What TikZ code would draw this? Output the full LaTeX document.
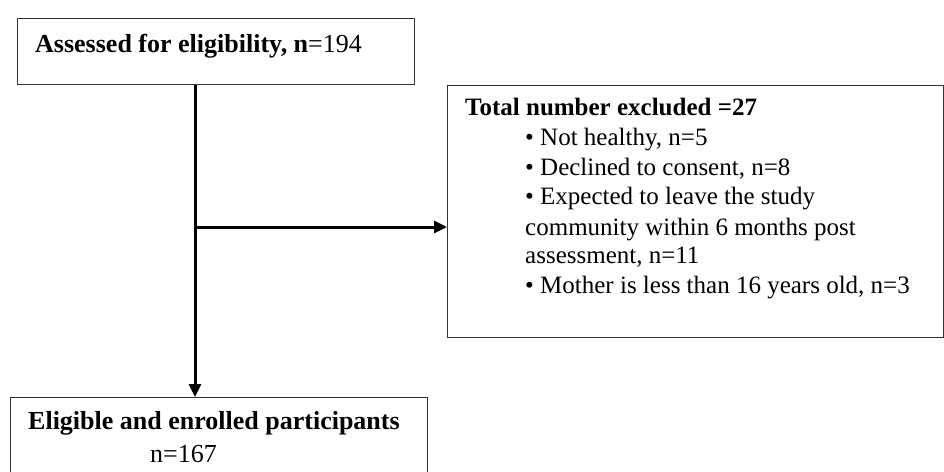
\documentclass[tikz,border=0pt]{standalone}
\usepackage{fontspec}
\setmainfont{Liberation Serif}
\usetikzlibrary{arrows.meta,positioning,calc}
\begin{document}
\begin{tikzpicture}[x=1pt,y=-1pt,
  font=\fontsize{25}{30}\selectfont,
  box/.style={draw=black!80,line width=1.3pt,rectangle,inner sep=0pt},
  flow/.style={-{Triangle[length=13pt,width=12pt]},line width=3pt},
  lbl/.style={anchor=base west,inner sep=0pt},
  big/.style={lbl,font=\fontsize{26}{31}\selectfont},
]
  \path[use as bounding box,clip] (0,0) rectangle (944,471);

  % boxes
  \node[box,minimum width=397pt,minimum height=66pt,anchor=north west] (assess) at (17,18) {};
  \node[box,minimum width=496pt,minimum height=252pt,anchor=north west] (excl) at (447,85) {};
  \node[box,minimum width=417pt,minimum height=110pt,anchor=north west] (enrol) at (10,397) {};

  % texts
  \node[big] (assesstxt) at (35,52) {\textbf{Assessed for eligibility, n}=194};
  \node[lbl] (excltitle) at (465,115) {\textbf{Total number excluded =27}};
  \foreach \i/\y/\txt in {1/145/{\textbullet\ Not healthy, n=5},
                          2/175/{\textbullet\ Declined to consent, n=8},
                          3/204/{\textbullet\ Expected to leave the study},
                          4/235/{community within 6 months post},
                          5/263/{assessment, n=11},
                          6/293/{\textbullet\ Mother is less than 16 years old, n=3}} {
    \node[lbl] (reason\i) at (525,\y) {\txt};
  }
  \node[big] (enroltxt) at (28,429) {\textbf{Eligible and enrolled participants}};
  \node[big] (enrolnum) at (150,462) {n=167};

  % connectors
  \coordinate (split) at (195,227);
  \draw[flow] (split |- assess.south) -- (split |- enrol.north);
  \draw[flow] (split) -- (split -| excl.west);
\end{tikzpicture}
\end{document}
